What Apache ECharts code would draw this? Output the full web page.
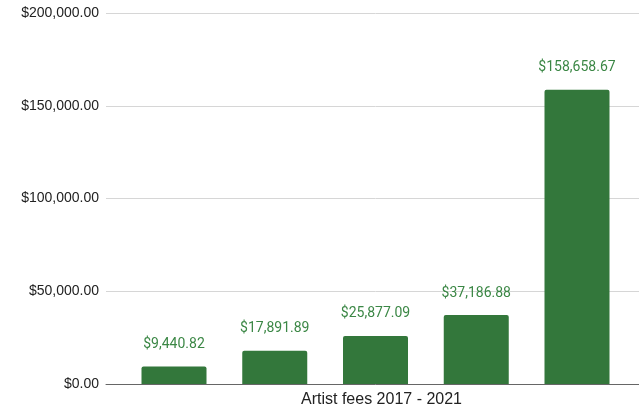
<!DOCTYPE html>
<html>
<head>
<meta charset="utf-8">
<script src="https://cdn.jsdelivr.net/npm/echarts@6/dist/echarts.min.js"></script>
<style>
  html, body { margin: 0; padding: 0; background: #fff; overflow: hidden; }
  #wrap { width: 639px; height: 410px; overflow: hidden; }
  #chart { width: 645px; height: 410px; }
</style>
</head>
<body>
<div id="wrap"><div id="chart"></div></div>
<script>
// Artist fees by year, drawn as one category with a bar per year
const categories = ['Artist fees 2017 - 2021'];
const years = ['2017', '2018', '2019', '2020', '2021'];
const fees = [9440.82, 17891.89, 25877.09, 37186.88, 158658.67];
const yTicks = { min: 0, max: 200000, interval: 50000 };

const green = '#33773b';

function money(v) {
  return '$' + Number(v).toLocaleString('en-US', { minimumFractionDigits: 2, maximumFractionDigits: 2 });
}

const chart = echarts.init(document.getElementById('chart'), null, { renderer: 'canvas' });

chart.setOption({
  animation: false,
  // plot area runs slightly past the visible edge so the bar group sits right of centre
  grid: { left: 106, right: 0, top: 13, bottom: 26, containLabel: false },
  xAxis: {
    type: 'category',
    data: categories,
    axisLine: { lineStyle: { color: '#666', width: 1 } },
    axisTick: { show: false },
    axisLabel: {
      color: '#222',
      fontFamily: 'Liberation Sans, Arial',
      fontSize: 16,
      margin: 8,
      padding: [0, 0, 0, 12]
    }
  },
  yAxis: {
    type: 'value',
    min: yTicks.min,
    max: yTicks.max,
    interval: yTicks.interval,
    axisLine: { show: false },
    axisTick: { show: false },
    splitLine: { lineStyle: { color: '#d6d6d6', width: 1 } },
    axisLabel: {
      color: '#222',
      fontFamily: 'Liberation Sans, Arial',
      fontSize: 14,
      margin: 7,
      formatter: v => money(v)
    }
  },
  series: years.map((y, i) => ({
    name: y,
    type: 'bar',
    data: [fees[i]],
    barWidth: 65,
    barGap: '55%',
    itemStyle: { color: green, borderRadius: [2, 2, 0, 0] },
    label: {
      show: true,
      position: 'top',
      distance: 15,
      color: '#3b8745',
      fontFamily: 'Roboto',
      fontSize: 14,
      formatter: p => money(p.value)
    }
  }))
});
</script>
</body>
</html>
